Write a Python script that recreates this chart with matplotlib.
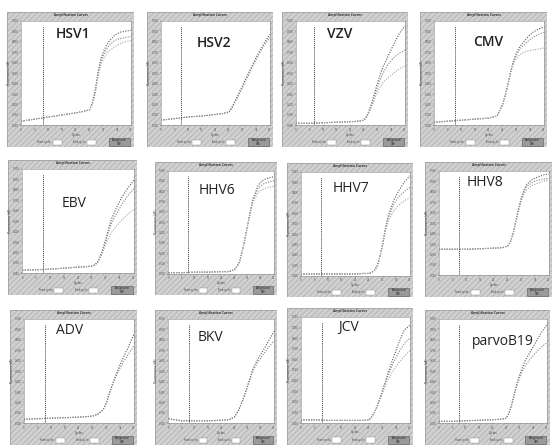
import matplotlib
matplotlib.use('Agg')
import matplotlib.pyplot as plt
from matplotlib.patches import Rectangle

plt.rcParams['hatch.linewidth'] = 0.45
plt.rcParams['font.family'] = ['Open Sans', 'DejaVu Sans']

# ---------------- data ----------------
cycles = [0, 5, 10, 15, 20, 23, 25, 26, 27, 28, 29, 30, 31, 32, 34, 36, 38, 40]

names = ["HSV1", "HSV2", "VZV", "CMV", "EBV", "HHV6", "HHV7", "HHV8",
         "ADV", "BKV", "JCV", "parvoB19"]

hsv1_a = [4, 6, 8, 10, 12, 13.5, 15, 22, 33, 50, 63, 70, 76, 80, 86, 89, 90, 91]
hsv1_b = [4, 6, 8, 10, 12, 13.5, 15, 21, 31, 48, 60, 67, 72, 76, 81, 83, 84, 85]
hsv1_c = [4, 6, 8, 10, 12, 13.5, 15, 20, 30, 46, 57, 63, 68, 71, 75, 78, 80, 81]

hsv2_a = [5, 6.5, 8, 9, 10.5, 11.5, 13, 17, 22, 27, 33, 38, 44, 49, 60, 70, 79, 87]
hsv2_b = [5, 6.5, 8, 9, 10.5, 11.5, 12.5, 16, 21, 26, 31, 36, 42, 47, 58, 68, 77, 84]

vzv_a = [2, 2, 2.5, 3, 3.5, 4, 5, 9, 15, 23, 32, 41, 49, 56, 67, 78, 88, 95]
vzv_b = [2, 2, 2.5, 3, 3.5, 4, 5, 8, 14, 21, 29, 37, 44, 50, 59, 65, 69, 72]
vzv_c = [2, 2, 2.5, 3, 3.5, 4, 5, 8, 13, 19, 26, 32, 37, 41, 46, 50, 54, 57]

cmv_a = [3, 4, 5, 6, 7, 9, 20, 29, 40, 52, 62, 69, 74, 78, 84, 89, 92, 94]
cmv_b = [3, 4, 5, 6, 7, 9, 20, 29, 40, 52, 61, 67, 72, 75, 80, 84, 87, 89]
cmv_c = [3, 4, 5, 6, 7, 9, 20, 29, 40, 51, 59, 64, 67, 69, 71, 72, 73, 74]

ebv_a = [3, 3.5, 4, 5, 6, 6.5, 7, 8, 11, 16, 24, 33, 43, 52, 64, 74, 82, 89]
ebv_b = [3, 3.5, 4, 5, 6, 6.5, 7, 8, 11, 16, 23, 31, 40, 48, 58, 67, 75, 81]
ebv_c = [3, 3.5, 4, 5, 6, 6.5, 7, 8, 10, 15, 21, 28, 34, 39, 46, 52, 57, 61]

hhv6_a = [1, 1, 1.5, 1.5, 2, 2, 4, 7, 12, 22, 34, 47, 60, 72, 86, 91, 93, 94]
hhv6_b = [1, 1, 1.5, 1.5, 2, 2, 4, 7, 12, 22, 34, 47, 60, 71, 83, 87, 89, 90]
hhv6_c = [1, 1, 1.5, 1.5, 2, 2, 4, 7, 12, 22, 33, 46, 58, 69, 79, 82, 84, 85]

hhv7_a = [1.5, 1.5, 1.5, 1.5, 1.5, 2, 2, 3, 5, 9, 18, 30, 45, 57, 72, 82, 90, 96]
hhv7_b = [1.5, 1.5, 1.5, 1.5, 1.5, 2, 2, 3, 5, 9, 18, 30, 44, 55, 68, 76, 81, 85]
hhv7_c = [1.5, 1.5, 1.5, 1.5, 1.5, 2, 2, 3, 5, 9, 18, 29, 42, 52, 62, 68, 72, 75]

hhv8_a = [25, 25, 25, 25.5, 26, 26.5, 28, 32, 40, 52, 64, 74, 82, 87, 92, 94, 96, 97]
hhv8_b = [25, 25, 25, 25.5, 26, 26.5, 28, 32, 40, 52, 64, 73, 80, 85, 89, 91, 92, 93]
hhv8_c = [25, 25, 25, 25.5, 26, 26.5, 28, 32, 40, 51, 62, 71, 78, 82, 86, 88, 90, 91]

adv_a = [4, 4.5, 5, 5.5, 6, 6.5, 7, 8, 9, 11, 14, 20, 28, 36, 50, 62, 73, 85]
adv_b = [4, 4.5, 5, 5.5, 6, 6.5, 7, 8, 9, 11, 14, 19, 27, 35, 48, 58, 66, 74]

bkv_a = [4.5, 2.5, 2.5, 2.5, 3, 3.5, 6, 10, 15, 21, 28, 36, 44, 52, 62, 70, 79, 88]
bkv_b = [4.5, 2.5, 2.5, 2.5, 3, 3.5, 6, 10, 15, 21, 28, 35, 43, 50, 59, 66, 73, 79]

jcv_a = [3, 3, 2.5, 2.5, 2.5, 2.5, 3, 6, 10, 16, 23, 31, 39, 47, 62, 76, 88, 92]
jcv_b = [3, 3, 2.5, 2.5, 2.5, 2.5, 3, 6, 10, 16, 23, 30, 38, 45, 57, 67, 75, 80]
jcv_c = [3, 3, 2.5, 2.5, 2.5, 2.5, 3, 6, 10, 15, 22, 29, 35, 41, 50, 57, 63, 68]

parvo_a = [2, 2, 2.5, 3, 3.5, 4, 5, 10, 18, 29, 39, 47, 54, 60, 69, 78, 87, 94]
parvo_b = [2, 2, 2.5, 3, 3.5, 4, 5, 10, 18, 28, 37, 44, 50, 55, 62, 68, 73, 77]

series = [
    [hsv1_a, hsv1_b, hsv1_c],
    [hsv2_a, hsv2_b],
    [vzv_a, vzv_b, vzv_c],
    [cmv_a, cmv_b, cmv_c],
    [ebv_a, ebv_b, ebv_c],
    [hhv6_a, hhv6_b, hhv6_c],
    [hhv7_a, hhv7_b, hhv7_c],
    [hhv8_a, hhv8_b, hhv8_c],
    [adv_a, adv_b],
    [bkv_a, bkv_b],
    [jcv_a, jcv_b, jcv_c],
    [parvo_a, parvo_b],
]

threshold_cycle = [8, 7.5, 6.8, 7.8, 7.6, 7.6, 7.3, 7.4, 7.6, 7.8, 7.8, 7.4]

x_ticks = [0, 5, 10, 15, 20, 25, 30, 35, 40]
y_ticks = [0, 10, 20, 30, 40, 50, 60, 70, 80, 90, 100]
y_tick_labels = ["0.000", "0.100", "0.200", "0.300", "0.400", "0.500",
                 "0.600", "0.700", "0.800", "0.900", "1.000"]

# ---------------- layout ----------------
W, H = 553, 447
frames = [
    (7, 12, 134, 147), (147, 12, 273, 147), (282, 12, 408, 147), (420, 12, 547, 147),
    (8, 160, 137, 295), (155, 162, 277, 295), (287, 163, 413, 297), (425, 162, 552, 297),
    (10, 310, 137, 445), (155, 310, 277, 445), (287, 308, 413, 445), (425, 310, 550, 445),
]
label_pos = [
    (0.32, 0.87), (0.33, 0.79), (0.29, 0.87), (0.36, 0.80),
    (0.35, 0.67), (0.29, 0.81), (0.29, 0.84), (0.25, 0.89),
    (0.29, 0.89), (0.28, 0.82), (0.34, 0.90), (0.31, 0.78),
]

fig = plt.figure(figsize=(W / 100, H / 100), dpi=100)
fig.patch.set_facecolor('white')


def fpos(x0, y0, x1, y1):
    return [x0 / W, 1 - y1 / H, (x1 - x0) / W, (y1 - y0) / H]


line_colors = ['#5a5a5a', '#858585', '#a5a5a5']

for i, (name, curves) in enumerate(zip(names, series)):
    x0, y0, x1, y1 = frames[i]
    fw, fh = x1 - x0, y1 - y0
    # textured grey frame
    fax = fig.add_axes(fpos(x0, y0, x1, y1))
    fax.set_xlim(0, 1)
    fax.set_ylim(0, 1)
    fax.axis('off')
    fax.add_patch(Rectangle((0, 0), 1, 1, facecolor='#d0d0d0', edgecolor='#a9a9a9',
                            hatch='//////', linewidth=0, transform=fax.transAxes))
    fax.add_patch(Rectangle((0, 0), 1, 1, facecolor='none', edgecolor='#9a9a9a',
                            linewidth=0.5, transform=fax.transAxes))
    fax.text(0.5, 0.975, "Amplification Curves", ha='center', va='center',
             fontsize=2.3, color='#333333', fontweight='bold')
    # bottom controls
    for bx, lab in [(0.36, "Start cycle:"), (0.63, "End cycle:")]:
        fax.text(bx - 0.01, 0.035, lab, ha='right', va='center', fontsize=2, color='#333333')
        fax.add_patch(Rectangle((bx, 0.015), 0.07, 0.04, facecolor='white',
                                edgecolor='#888888', linewidth=0.3))
    fax.add_patch(Rectangle((0.8, 0.01), 0.17, 0.055, facecolor='#9a9a9a',
                            edgecolor='#555555', linewidth=0.4))
    fax.text(0.885, 0.037, "Background\n(dR)", ha='center', va='center',
             fontsize=1.8, color='#111111', linespacing=0.9)

    # plot area
    px0 = x0 + 0.11 * fw
    px1 = x1 - 0.025 * fw
    py0 = y0 + 0.065 * fh
    py1 = y1 - 0.16 * fh
    ax = fig.add_axes(fpos(px0, py0, px1, py1))
    ax.set_facecolor('white')
    for s in ax.spines.values():
        s.set_linewidth(0.4)
        s.set_color('#8a8a8a')
    for k, ys in enumerate(curves):
        ax.plot(cycles, ys, linestyle=(0, (1, 1.3)), linewidth=0.8,
                color=line_colors[k % 3])
    ax.plot([threshold_cycle[i], threshold_cycle[i]], [0, 95], linestyle=(0, (1, 1)),
            linewidth=0.7, color='#3a3a3a')
    ax.set_xlim(0, 40)
    ax.set_ylim(0, 100)
    ax.set_xticks(x_ticks)
    ax.set_xticklabels([str(t) for t in x_ticks])
    ax.set_yticks(y_ticks)
    ax.set_yticklabels(y_tick_labels)
    ax.tick_params(labelsize=2, length=1, width=0.3, pad=0.8, colors='#444444')
    ax.set_xlabel("Cycles", fontsize=2.2, labelpad=0.5, color='#333333')
    ax.set_ylabel("Fluorescence (dR)", fontsize=2.2, labelpad=0.5, color='#333333')
    lx, ly = label_pos[i]
    ax.text(lx, ly, name, transform=ax.transAxes, ha='left', va='center',
            fontsize=10, color='#222222',
            fontweight='semibold' if i < 4 else 'normal')

fig.savefig('out.png', dpi=100, facecolor='white')
